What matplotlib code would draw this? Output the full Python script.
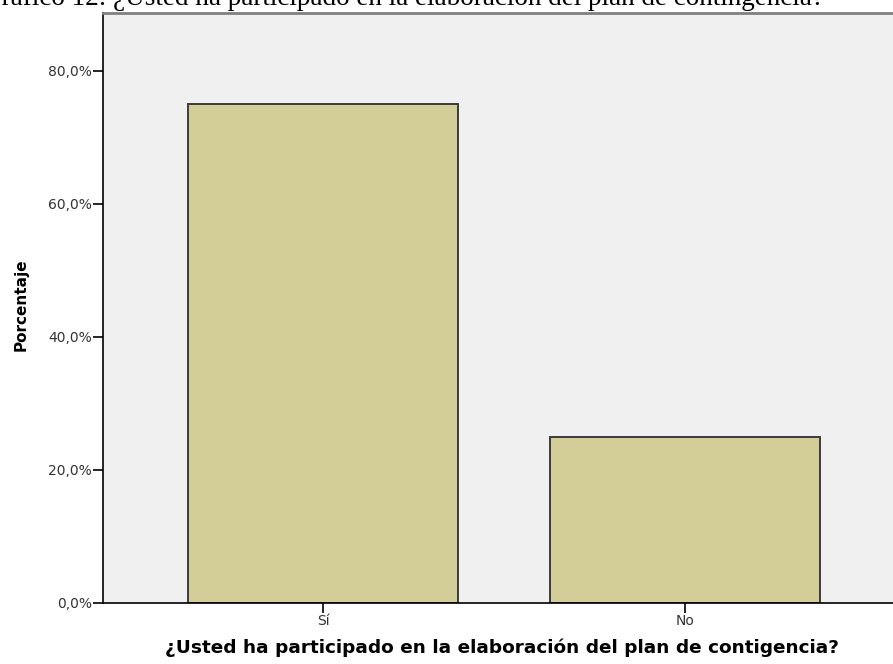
import matplotlib
matplotlib.use("Agg")
import matplotlib.pyplot as plt

# datos
categorias = ["Sí", "No"]
porcentajes = [75.0, 25.0]
ticks_y = [0, 20, 40, 60, 80]
etiquetas_y = ["0,0%", "20,0%", "40,0%", "60,0%", "80,0%"]
titulo = "Gráfico 12: ¿Usted ha participado en la elaboración del plan de contingencia?"

W, H = 893, 664
fig = plt.figure(figsize=(W / 100, H / 100), dpi=100)
fig.patch.set_facecolor("white")

# área del gráfico en píxeles: x 103..893, y 13..603
ax = fig.add_axes([103 / W, (H - 603) / H, 1 - 103 / W, (603 - 13) / H])
ax.set_facecolor("#f0f0f0")

x = range(len(categorias))
ax.bar(x, porcentajes, width=0.745, color="#d3ce97",
       edgecolor="#3c3c3c", linewidth=1.4, zorder=2)

ax.set_xlim(-0.608, 1.575)
ax.set_ylim(0, 88.7)

ax.set_yticks(ticks_y)
ax.set_yticklabels(etiquetas_y, fontsize=10, family="DejaVu Sans", color="#333333")
ax.set_xticks(list(x))
ax.set_xticklabels(categorias, fontsize=10, family="DejaVu Sans", color="#333333")
ax.tick_params(axis="both", direction="out", length=7, width=1.2, color="black")
ax.tick_params(axis="y", pad=1)
ax.tick_params(axis="x", pad=1)

for lado in ["left", "bottom"]:
    ax.spines[lado].set_color("black")
    ax.spines[lado].set_linewidth(1.2)
ax.spines["top"].set_color("#808080")
ax.spines["top"].set_linewidth(2)
ax.spines["right"].set_visible(False)

ax.set_ylabel("Porcentaje", fontsize=11, fontweight="bold", family="DejaVu Sans")
ax.yaxis.set_label_coords(-(103 - 21) / (W - 103), 0.5 + (303 - 300) / 590)
ax.yaxis.label.set_va("center")
ax.set_xlabel("¿Usted ha participado en la elaboración del plan de contigencia?",
              fontsize=13.3, fontweight="bold", family="DejaVu Sans")
ax.xaxis.set_label_coords((502 - 103) / (W - 103), -(648 - 603) / 590)
ax.xaxis.label.set_va("center")

# título del documento, recortado arriba
fig.text(-18 / W, 1 - 5 / H, titulo,
         fontsize=19.5, family="Liberation Serif", ha="left", va="baseline")

fig.savefig("out.png", dpi=100)
